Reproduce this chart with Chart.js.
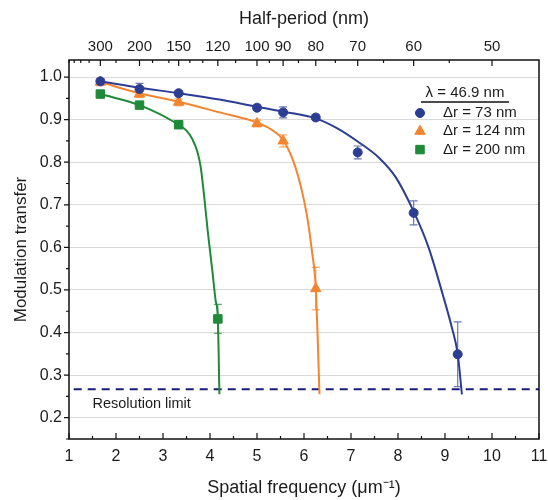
<!DOCTYPE html>
<html>
<head>
<meta charset="utf-8">
<script src="https://cdn.jsdelivr.net/npm/chart.js@4.4.1/dist/chart.umd.min.js"></script>
<style>
html, body { margin: 0; padding: 0; background: #fff; }
#wrap { width: 548px; height: 500px; }
</style>
</head>
<body>
<div id="wrap"><canvas id="mtf-chart" width="548" height="500"></canvas></div>
<script>
// ======
// data
// ======
var xTicks = [1, 2, 3, 4, 5, 6, 7, 8, 9, 10, 11];
var xMinorTicks = [1.5, 2.5, 3.5, 4.5, 5.5, 6.5, 7.5, 8.5, 9.5, 10.5];
var yTicks = [0.2, 0.3, 0.4, 0.5, 0.6, 0.7, 0.8, 0.9, 1.0];
var yMinorTicks = [0.15, 0.25, 0.35, 0.45, 0.55, 0.65, 0.75, 0.85, 0.95];
var halfPeriodTicks = [300, 200, 150, 120, 100, 90, 80, 70, 60, 50];
var halfPeriodMinor = [500, 450, 400, 350, 250, 180, 160, 140, 130, 110, 95, 85, 75, 65, 55];

// measured points (spatial frequency, modulation transfer, error)
var freq73 = [1.667, 2.5, 3.333, 5.0, 5.556, 6.25, 7.143, 8.333, 9.27];
var mtf73  = [0.990, 0.972, 0.962, 0.928, 0.917, 0.905, 0.823, 0.681, 0.349];
var err73  = [0.006, 0.013, 0.006, 0.006, 0.013, 0.006, 0.015, 0.028, 0.076];

var freq124 = [1.667, 2.5, 3.333, 5.0, 5.556, 6.25];
var mtf124  = [0.988, 0.960, 0.941, 0.891, 0.850, 0.503];
var err124  = [0.008, 0.008, 0.008, 0.008, 0.014, 0.050];

var freq200 = [1.667, 2.5, 3.333, 4.167];
var mtf200  = [0.960, 0.934, 0.888, 0.432];
var err200  = [0.004, 0.004, 0.005, 0.034];

// fitted curves
var fit73X = [1.667, 2.5, 3.333, 4.2, 5.0, 5.6, 6.25, 6.7, 7.15, 7.6, 7.95, 8.33, 8.65, 8.95, 9.15, 9.27, 9.36];
var fit73Y = [0.990, 0.975, 0.962, 0.947, 0.930, 0.918, 0.903, 0.880, 0.848, 0.810, 0.765, 0.685, 0.600, 0.490, 0.410, 0.350, 0.255];

var fit124X = [1.667, 2.5, 3.333, 4.2, 5.0, 5.3, 5.556, 5.78, 5.95, 6.07, 6.17, 6.25, 6.33];
var fit124Y = [0.988, 0.962, 0.942, 0.917, 0.893, 0.877, 0.852, 0.800, 0.735, 0.670, 0.590, 0.505, 0.255];

var fit200X = [1.667, 2.5, 3.333, 3.5, 3.62, 3.73, 3.8, 3.87, 3.95, 4.05, 4.12, 4.167, 4.2];
var fit200Y = [0.960, 0.934, 0.888, 0.874, 0.855, 0.825, 0.790, 0.726, 0.640, 0.545, 0.475, 0.432, 0.255];

var resLimitX = [1.1, 11];
var resLimitY = [0.267, 0.267];

var legendTitle = 'λ = 46.9 nm';
var legendLabels = ['Δr = 73 nm', 'Δr = 124 nm', 'Δr = 200 nm'];

var BLUE = '#2c3d94', ORANGE = '#f5842e', GREEN = '#1f8a38', NAVY = '#1b1b7d';
var TEXT = '#1c1c1c';
var FONT = "'Liberation Sans', Arial, sans-serif";

function pts(xs, ys) {
    return xs.map(function(v, i) { return {x: v, y: ys[i]}; });
}

// error bars, drawn after the curves and before the markers
var errorBars = {
    id: 'errorBars',
    afterDatasetDraw: function(chart, args) {
        if (args.index !== 3) return;
        var ctx = chart.ctx, xs = chart.scales.x, ys = chart.scales.y;
        var sets = [[freq73, mtf73, err73, BLUE], [freq124, mtf124, err124, ORANGE], [freq200, mtf200, err200, GREEN]];
        ctx.save();
        ctx.lineWidth = 1.2;
        sets.forEach(function(s) {
            ctx.strokeStyle = s[3];
            ctx.globalAlpha = 0.7;
            s[0].forEach(function(f, i) {
                var px = xs.getPixelForValue(f);
                var top = ys.getPixelForValue(s[1][i] + s[2][i]);
                var bot = ys.getPixelForValue(s[1][i] - s[2][i]);
                ctx.beginPath();
                ctx.moveTo(px, top); ctx.lineTo(px, bot);
                ctx.moveTo(px - 4, top); ctx.lineTo(px + 4, top);
                ctx.moveTo(px - 4, bot); ctx.lineTo(px + 4, bot);
                ctx.stroke();
            });
        });
        ctx.restore();
    }
};

// frame, inside/outside ticks, legend and annotation
var frameAndLegend = {
    id: 'frameAndLegend',
    afterDraw: function(chart) {
        var ctx = chart.ctx, a = chart.chartArea;
        var xs = chart.scales.x, x2 = chart.scales.x2, ys = chart.scales.y;
        ctx.save();
        ctx.strokeStyle = '#111';
        ctx.lineWidth = 1.5;
        ctx.strokeRect(a.left, a.top, a.right - a.left, a.bottom - a.top);

        ctx.lineWidth = 1.2;
        ctx.beginPath();
        xTicks.forEach(function(v) {
            var px = xs.getPixelForValue(v);
            ctx.moveTo(px, a.bottom); ctx.lineTo(px, a.bottom - 6);
        });
        xMinorTicks.forEach(function(v) {
            var px = xs.getPixelForValue(v);
            ctx.moveTo(px, a.bottom); ctx.lineTo(px, a.bottom - 3);
        });
        halfPeriodTicks.forEach(function(h) {
            var px = x2.getPixelForValue(500 / h);
            ctx.moveTo(px, a.top); ctx.lineTo(px, a.top + 6);
        });
        halfPeriodMinor.forEach(function(h) {
            var px = x2.getPixelForValue(500 / h);
            ctx.moveTo(px, a.top); ctx.lineTo(px, a.top + 3);
        });
        yTicks.forEach(function(v) {
            var py = ys.getPixelForValue(v);
            ctx.moveTo(a.left, py); ctx.lineTo(a.left - 5, py);
        });
        yMinorTicks.forEach(function(v) {
            var py = ys.getPixelForValue(v);
            ctx.moveTo(a.left, py); ctx.lineTo(a.left - 3, py);
        });
        ctx.stroke();

        // Resolution limit label
        ctx.fillStyle = TEXT;
        ctx.font = '14.5px ' + FONT;
        ctx.textAlign = 'left';
        ctx.textBaseline = 'middle';
        ctx.fillText('Resolution limit', xs.getPixelForValue(1.5), ys.getPixelForValue(0.232));

        // legend
        ctx.font = '15px ' + FONT;
        ctx.textAlign = 'center';
        ctx.fillText(legendTitle, 465, 93);
        ctx.beginPath();
        ctx.lineWidth = 1.5;
        ctx.moveTo(421, 102); ctx.lineTo(509, 102);
        ctx.stroke();
        var styles = [['circle', 4.5, BLUE], ['triangle', 6, ORANGE], ['rect', 6, GREEN]];
        ctx.textAlign = 'left';
        legendLabels.forEach(function(lbl, i) {
            var yy = 113 + i * 18.3;
            ctx.fillStyle = styles[i][2];
            ctx.strokeStyle = styles[i][2];
            ctx.lineWidth = 1;
            Chart.helpers.drawPoint(ctx, {pointStyle: styles[i][0], radius: styles[i][1], rotation: 0, borderWidth: 1}, 420, yy);
            ctx.fillStyle = TEXT;
            ctx.fillText(lbl, 443, yy);
        });
        ctx.restore();
    }
};

var chart = new Chart(document.getElementById('mtf-chart'), {
    type: 'scatter',
    data: {
        datasets: [{
            data: pts(freq73, mtf73),
            pointStyle: 'circle', pointRadius: 4.5,
            backgroundColor: BLUE, borderColor: BLUE, borderWidth: 1
        }, {
            data: pts(freq124, mtf124),
            pointStyle: 'triangle', pointRadius: 6,
            backgroundColor: ORANGE, borderColor: ORANGE, borderWidth: 1
        }, {
            data: pts(freq200, mtf200),
            pointStyle: 'rect', pointRadius: 6,
            backgroundColor: GREEN, borderColor: GREEN, borderWidth: 1
        }, {
            data: pts(fit73X, fit73Y),
            showLine: true, pointRadius: 0, borderColor: BLUE, borderWidth: 2,
            cubicInterpolationMode: 'monotone'
        }, {
            data: pts(fit124X, fit124Y),
            showLine: true, pointRadius: 0, borderColor: ORANGE, borderWidth: 2,
            cubicInterpolationMode: 'monotone'
        }, {
            data: pts(fit200X, fit200Y),
            showLine: true, pointRadius: 0, borderColor: GREEN, borderWidth: 2,
            cubicInterpolationMode: 'monotone'
        }, {
            data: pts(resLimitX, resLimitY),
            showLine: true, pointRadius: 0, borderColor: NAVY, borderWidth: 2,
            borderDash: [8, 6]
        }]
    },
    options: {
        responsive: false,
        animation: false,
        layout: { padding: { left: 0, right: 0, top: 0, bottom: 0 } },
        plugins: {
            legend: { display: false },
            tooltip: { enabled: false }
        },
        scales: {
            x: {
                type: 'linear', position: 'bottom', min: 1, max: 11,
                afterBuildTicks: function(s) { s.ticks = xTicks.map(function(v) { return {value: v}; }); },
                afterFit: function(s) { s.height = 61; s.paddingLeft = 0; s.paddingRight = 9; },
                grid: { display: false, drawTicks: false },
                border: { display: false },
                ticks: { color: TEXT, font: { family: FONT, size: 16 }, padding: 8, maxRotation: 0, autoSkip: false },
                title: { display: true, text: 'Spatial frequency (μm⁻¹)', color: TEXT,
                         font: { family: FONT, size: 18 }, padding: { top: 0, bottom: 1 } }
            },
            x2: {
                type: 'linear', position: 'top', min: 1, max: 11,
                afterBuildTicks: function(s) { s.ticks = halfPeriodTicks.map(function(h) { return {value: 500 / h}; }); },
                afterFit: function(s) { s.height = 60; s.paddingLeft = 0; s.paddingRight = 9; },
                grid: { display: false, drawTicks: false },
                border: { display: false },
                ticks: { color: TEXT, font: { family: FONT, size: 15 }, padding: 4, maxRotation: 0, autoSkip: false,
                         callback: function(v) { return Math.round(500 / v); } },
                title: { display: true, text: 'Half-period (nm)', color: TEXT,
                         font: { family: FONT, size: 18 }, padding: { top: 8, bottom: 0 } }
            },
            y: {
                type: 'linear', min: 0.15, max: 1.04,
                afterBuildTicks: function(s) { s.ticks = yTicks.map(function(v) { return {value: v}; }); },
                afterFit: function(s) { s.width = 69; },
                grid: { color: '#d9d9d9', drawTicks: false },
                border: { display: false },
                ticks: { color: TEXT, font: { family: FONT, size: 16 }, padding: 7,
                         callback: function(v) { return v.toFixed(1); } },
                title: { display: true, text: 'Modulation transfer', color: TEXT,
                         font: { family: FONT, size: 17 }, padding: { top: 11, bottom: 0 } }
            }
        }
    },
    plugins: [errorBars, frameAndLegend]
});
</script>
</body>
</html>
